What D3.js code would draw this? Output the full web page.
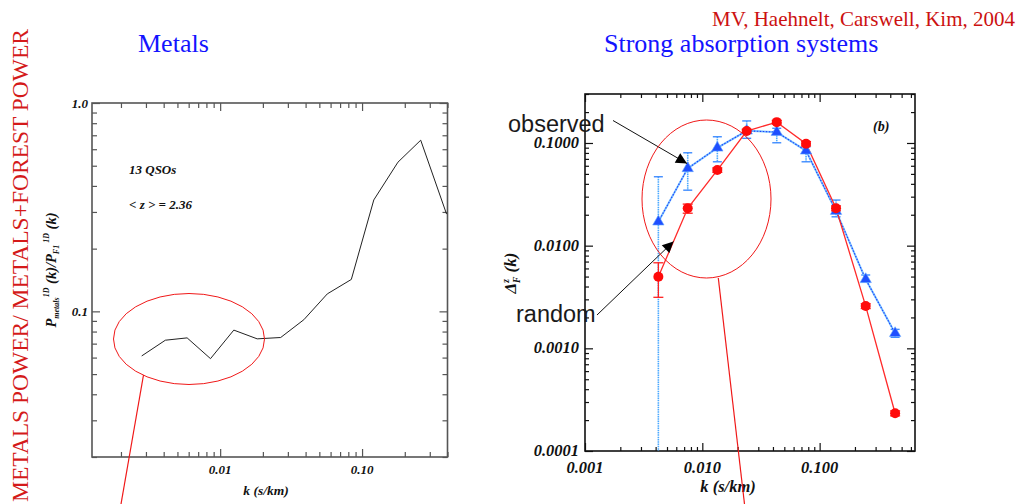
<!DOCTYPE html>
<html><head><meta charset="utf-8">
<script src="https://cdn.jsdelivr.net/npm/d3@7/dist/d3.min.js"></script>
<style>
html,body{margin:0;padding:0;background:#fff;}
svg{display:block;}
.tl{font-family:"Liberation Serif","Times New Roman",serif;font-weight:bold;font-style:italic;fill:#111;}
</style></head>
<body><svg id="c" width="1026" height="504"></svg>
<script>
// ---------- DATA ----------
// Left panel: metal power / (metals + forest) power
const kLeft = [0.0028,0.00411,0.00585,0.00855,0.01248,0.01824,0.0267,0.0389,0.0569,0.084,0.121,0.179,0.259,0.394];
const ratioLeft = [0.0611,0.0727,0.0746,0.0593,0.0813,0.0738,0.0749,0.0912,0.1213,0.1423,0.3426,0.520,0.663,0.293];
// Right panel: strong absorption systems
const kRight = [0.00422,0.00751,0.01343,0.0239,0.0431,0.0766,0.138,0.247,0.44];
const observed   = [0.0171,0.0566,0.0897,0.1315,0.1276,0.0839,0.0217,0.0047,0.0014];
const observedHi = [0.0469,0.0803,0.115,0.164,0.139,0.0918,0.0278,0.00518,0.00153];
const observedLo = [0.000001,0.0347,0.0656,0.111,0.1005,0.0656,0.0191,0.00445,0.00128];
const random   = [0.00498,0.0231,0.0545,0.1306,0.1596,0.0982,0.0231,0.00258,0.000233];
const randomHi = [0.00681,0.0254,0.0572,0.136,0.166,0.103,0.0244,0.00272,0.000246];
const randomLo = [0.00314,0.0207,0.0518,0.125,0.153,0.0935,0.0218,0.00244,0.000220];
// tick labels
const leftXTicks = [0.01,0.1], leftXLabels = ["0.01","0.10"];
const leftYTicks = [0.1,1.0], leftYLabels = ["0.1","1.0"];
const rightXTicks = [0.001,0.01,0.1], rightXLabels = ["0.001","0.010","0.100"];
const rightYTicks = [0.0001,0.001,0.01,0.1], rightYLabels = ["0.0001","0.0010","0.0100","0.1000"];

// ---------- LAYOUT ----------
const svg = d3.select("#c");
const L = {x0:92,x1:447.5,y0:103,y1:457};
const R = {x0:585,x1:915,y0:94,y1:451};

const xL = d3.scaleLog().domain([0.00125,0.4]).range([L.x0,L.x1]);
const yL = d3.scaleLog().domain([0.02,1.0]).range([L.y1,L.y0]);
const xR = d3.scaleLog().domain([0.001,0.65]).range([R.x0,R.x1]);
const yR = d3.scaleLog().domain([0.0001,0.3]).range([R.y1,R.y0]);

function minors(scale, majors){
  return scale.ticks().filter(v => !majors.some(m => Math.abs(m-v)/m < 1e-6));
}
function drawFrame(P, xs, ys, xt, yt, col, majLen, minLen){
  const g = svg.append("g");
  const xm = minors(xs, xt), ym = minors(ys, yt);
  const sets = [
    [d3.axisBottom(xs).tickValues(xt).tickSize(-majLen), `translate(0,${P.y1})`],
    [d3.axisBottom(xs).tickValues(xm).tickSize(-minLen), `translate(0,${P.y1})`],
    [d3.axisTop(xs).tickValues(xt).tickSize(-majLen), `translate(0,${P.y0})`],
    [d3.axisTop(xs).tickValues(xm).tickSize(-minLen), `translate(0,${P.y0})`],
    [d3.axisLeft(ys).tickValues(yt).tickSize(-majLen), `translate(${P.x0},0)`],
    [d3.axisLeft(ys).tickValues(ym).tickSize(-minLen), `translate(${P.x0},0)`],
    [d3.axisRight(ys).tickValues(yt).tickSize(-majLen), `translate(${P.x1},0)`],
    [d3.axisRight(ys).tickValues(ym).tickSize(-minLen), `translate(${P.x1},0)`]
  ];
  sets.forEach(([ax,tr]) => {
    const a = g.append("g").attr("transform",tr).call(ax.tickFormat("").tickSizeOuter(0));
    a.select(".domain").remove();
    a.selectAll("line").attr("stroke",col).attr("stroke-width",1.2);
  });
  g.append("rect").attr("x",P.x0).attr("y",P.y0).attr("width",P.x1-P.x0).attr("height",P.y1-P.y0)
    .attr("fill","none").attr("stroke",col).attr("stroke-width",1.6);
}

// ---------- BIG TEXT ----------
svg.append("text").attr("transform","translate(28,502) rotate(-90)")
  .attr("font-family","Liberation Serif, Times New Roman, serif").attr("font-size",22.5)
  .attr("textLength",473).attr("lengthAdjust","spacingAndGlyphs")
  .attr("fill","#d41a1a").text("METALS POWER/ METALS+FOREST POWER");
svg.append("text").attr("x",138).attr("y",52).attr("font-family","Liberation Serif, serif")
  .attr("font-size",26).attr("fill","#1414ff").text("Metals");
svg.append("text").attr("x",604).attr("y",52).attr("font-family","Liberation Serif, serif")
  .attr("font-size",26).attr("fill","#1414ff").text("Strong absorption systems");
svg.append("text").attr("x",1015).attr("y",26).attr("text-anchor","end").attr("font-family","Liberation Serif, serif")
  .attr("font-size",21).attr("fill","#cc1111").text("MV, Haehnelt, Carswell, Kim, 2004");

// ---------- LEFT PANEL ----------
drawFrame(L, xL, yL, leftXTicks, leftYTicks, "#555", 8, 5);
svg.append("defs").html(`<clipPath id="clipL"><rect x="${L.x0}" y="${L.y0}" width="${L.x1-L.x0}" height="${L.y1-L.y0}"/></clipPath>
<clipPath id="clipR"><rect x="${R.x0}" y="${R.y0}" width="${R.x1-R.x0}" height="${R.y1-R.y0}"/></clipPath>
<marker id="ah" viewBox="0 0 10 10" refX="10" refY="5" markerWidth="14" markerHeight="11" markerUnits="userSpaceOnUse" orient="auto"><path d="M0,0L10,5L0,10z" fill="#000"/></marker>`);

svg.append("path").attr("clip-path","url(#clipL)")
  .attr("d", d3.line().x((d,i)=>xL(kLeft[i])).y(d=>yL(d))(ratioLeft))
  .attr("fill","none").attr("stroke","#222").attr("stroke-width",1);

svg.selectAll(".lxl").data(leftXTicks).enter().append("text").attr("class","tl")
  .attr("x",d=>xL(d)).attr("y",474).attr("text-anchor","middle").attr("font-size",13)
  .text((d,i)=>leftXLabels[i]);
svg.selectAll(".lyl").data(leftYTicks).enter().append("text").attr("class","tl")
  .attr("x",88).attr("y",d=>yL(d)+4.5).attr("text-anchor","end").attr("font-size",13)
  .text((d,i)=>leftYLabels[i]);
svg.append("text").attr("class","tl").attr("x",266).attr("y",495).attr("text-anchor","middle")
  .attr("font-size",13.5).text("k (s/km)");
svg.append("text").attr("class","tl").attr("x",129).attr("y",174).attr("font-size",13).text("13 QSOs");
svg.append("text").attr("class","tl").attr("x",129).attr("y",209).attr("font-size",13).text("< z > = 2.36");

// left y label
const ly = svg.append("text").attr("class","tl").attr("transform","translate(56,270) rotate(-90)")
  .attr("text-anchor","middle").attr("font-size",14.5);
ly.append("tspan").text("P");
ly.append("tspan").attr("font-size",8).attr("dy",3).text("metals");
ly.append("tspan").attr("font-size",8).attr("dy",-10).text("1D");
ly.append("tspan").attr("dy",7).text(" (k)/P");
ly.append("tspan").attr("font-size",8).attr("dy",3).text("F1");
ly.append("tspan").attr("font-size",8).attr("dy",-10).text(" 1D");
ly.append("tspan").attr("dy",7).text(" (k)");

// left ellipse + pointer line
svg.append("ellipse").attr("cx",189).attr("cy",339).attr("rx",75.5).attr("ry",45.5)
  .attr("fill","none").attr("stroke","#f01818").attr("stroke-width",1);
svg.append("line").attr("x1",143.5).attr("y1",375).attr("x2",121).attr("y2",504)
  .attr("stroke","#f01818").attr("stroke-width",1.2);

// ---------- RIGHT PANEL ----------
drawFrame(R, xR, yR, rightXTicks, rightYTicks, "#111", 8, 4);

svg.selectAll(".rxl").data(rightXTicks).enter().append("text").attr("class","tl")
  .attr("x",d=>xR(d)).attr("y",473).attr("text-anchor","middle").attr("font-size",16.5)
  .text((d,i)=>rightXLabels[i]);
svg.selectAll(".ryl").data(rightYTicks).enter().append("text").attr("class","tl")
  .attr("x",579).attr("y",d=>yR(d)+5).attr("text-anchor","end").attr("font-size",16.5)
  .text((d,i)=>rightYLabels[i]);
svg.append("text").attr("class","tl").attr("x",728).attr("y",492).attr("text-anchor","middle")
  .attr("font-size",16.5).text("k (s/km)");
svg.append("text").attr("class","tl").attr("x",873).attr("y",131).attr("font-size",14).text("(b)");

const ry = svg.append("text").attr("class","tl").attr("transform","translate(516,273) rotate(-90)")
  .attr("text-anchor","middle").attr("font-size",17);
ry.append("tspan").text("Δ");
ry.append("tspan").attr("font-size",9.5).attr("dy",-7).text("z");
ry.append("tspan").attr("font-size",9.5).attr("dy",11).attr("dx",-4).text("F");
ry.append("tspan").attr("dy",-4).text(" (k)");

const gR = svg.append("g").attr("clip-path","url(#clipR)");
// observed error bars
kRight.forEach((k,i)=>{
  const x = xR(k), y1 = yR(observedHi[i]), y2 = yR(Math.max(observedLo[i],1e-6));
  gR.append("line").attr("x1",x).attr("x2",x).attr("y1",y1).attr("y2",y2)
    .attr("stroke","#4aa8ff").attr("stroke-width",1.6).attr("stroke-dasharray","1.5,0.8");
  [observedHi[i], observedLo[i]].forEach(v=>{
    if (v > 1.2e-4) gR.append("line").attr("x1",x-4.5).attr("x2",x+4.5).attr("y1",yR(v)).attr("y2",yR(v))
      .attr("stroke","#3f8cff").attr("stroke-width",1.4);
  });
});
// observed line
const obsLine = d3.line().x((d,i)=>xR(kRight[i])).y(d=>yR(d));
gR.append("path").attr("d",obsLine(observed)).attr("fill","none").attr("stroke","#7cc4ff").attr("stroke-width",2);
gR.append("path").attr("d",obsLine(observed)).attr("fill","none").attr("stroke","#1a3cff").attr("stroke-width",1.1).attr("stroke-dasharray","1.5,1.5");

// random error bars
kRight.forEach((k,i)=>{
  const x = xR(k);
  gR.append("line").attr("x1",x).attr("x2",x).attr("y1",yR(randomHi[i])).attr("y2",yR(randomLo[i]))
    .attr("stroke","#ff2020").attr("stroke-width",1.3);
  [randomHi[i], randomLo[i]].forEach(v=>{
    gR.append("line").attr("x1",x-5).attr("x2",x+5).attr("y1",yR(v)).attr("y2",yR(v))
      .attr("stroke","#ff2020").attr("stroke-width",1.3);
  });
});
gR.append("path").attr("d",obsLine(random)).attr("fill","none").attr("stroke","#ff2a2a").attr("stroke-width",1.3);

// markers
gR.selectAll(".tri").data(observed).enter().append("path")
  .attr("d", d3.symbol().type(d3.symbolTriangle).size(56))
  .attr("transform",(d,i)=>`translate(${xR(kRight[i])},${yR(d)})`)
  .attr("fill","#1f4fff").attr("stroke","#66aaff").attr("stroke-width",0.6);
gR.selectAll(".cir").data(random).enter().append("circle")
  .attr("cx",(d,i)=>xR(kRight[i])).attr("cy",d=>yR(d)).attr("r",5)
  .attr("fill","#ff0a0a");

// annotations
svg.append("text").attr("x",508).attr("y",132).attr("font-family","Liberation Sans, Arial, sans-serif")
  .attr("font-size",23.5).attr("fill","#1a1a1a").text("observed");
svg.append("text").attr("x",516).attr("y",322).attr("font-family","Liberation Sans, Arial, sans-serif")
  .attr("font-size",23.5).attr("fill","#1a1a1a").text("random");
svg.append("line").attr("x1",613).attr("y1",120.5).attr("x2",687).attr("y2",163.5)
  .attr("stroke","#111").attr("stroke-width",1).attr("marker-end","url(#ah)");
svg.append("line").attr("x1",597).attr("y1",315).attr("x2",673.5).attr("y2",241.5)
  .attr("stroke","#111").attr("stroke-width",1).attr("marker-end","url(#ah)");

svg.append("ellipse").attr("cx",706.5).attr("cy",199).attr("rx",64.5).attr("ry",79)
  .attr("fill","none").attr("stroke","#f01818").attr("stroke-width",1);
svg.append("line").attr("x1",718.3).attr("y1",278).attr("x2",744.5).attr("y2",504)
  .attr("stroke","#f01818").attr("stroke-width",1.2);
</script></body></html>
